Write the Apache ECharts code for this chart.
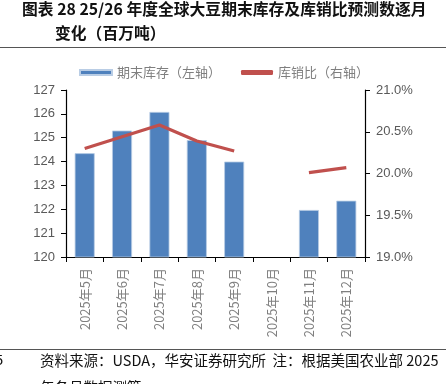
<!DOCTYPE html>
<html><head><meta charset="utf-8">
<script src="https://cdn.jsdelivr.net/npm/echarts@6/dist/echarts.min.js"></script>
<style>html,body{margin:0;padding:0;background:#fff}#c{width:446px;height:384px}</style>
</head><body><div id="c"></div>
<script>
const categories = ['2025年5月','2025年6月','2025年7月','2025年8月','2025年9月','2025年10月','2025年11月','2025年12月'];
const endingStocks = [124.35, 125.3, 126.08, 124.9, 124.0, null, 121.97, 122.36];
const stocksToUse = [20.30, 20.44, 20.58, 20.39, 20.27, null, 20.01, 20.07];
const leftTicks = [120, 127, 1];
const rightTicks = [19, 21, 0.5];

const chart = echarts.init(document.getElementById('c'));
const cjk = '"Noto Sans CJK SC", sans-serif';
chart.setOption({
  animation: false,
  textStyle: { fontFamily: cjk },
  graphic: [
    { type: 'text', left: 22, top: 1, style: { text: '图表 28 25/26 年度全球大豆期末库存及库销比预测数逐月', font: 'bold 15.8px ' + cjk, fill: '#111' } },
    { type: 'text', left: 55, top: 25, style: { text: '变化（百万吨）', font: 'bold 15.8px ' + cjk, fill: '#111' } },
    { type: 'rect', shape: { x: 0, y: 47, width: 446, height: 1 }, style: { fill: '#555' } },
    { type: 'rect', shape: { x: 0, y: 349, width: 446, height: 1 }, style: { fill: '#555' } },
    { type: 'text', left: -5, top: 353, style: { text: '5', font: '14.5px "Liberation Sans", sans-serif', fill: '#111' } },
    { type: 'text', left: 40, top: 353, style: { text: '资料来源：USDA，华安证券研究所  注：根据美国农业部 2025', font: '14.5px ' + cjk, fill: '#111' } },
    { type: 'text', left: 40, top: 380, style: { text: '年各月数据测算', font: '14.5px ' + cjk, fill: '#111' } }
  ],
  legend: {
    top: 61, left: 74,
    itemGap: 20,
    textStyle: { color: '#7f7f7f', fontSize: 13, fontFamily: cjk },
    data: [
      { name: '期末库存（左轴）', icon: 'rect', itemStyle: { color: '#4F81BD' } },
      { name: '库销比（右轴）', icon: 'roundRect' }
    ],
    itemWidth: 32, itemHeight: 5
  },
  grid: { left: 66, right: 81, top: 90, bottom: 127 },
  xAxis: {
    type: 'category', data: categories,
    boundaryGap: true,
    axisLine: { lineStyle: { color: '#000', width: 1.2 } },
    axisTick: { show: true, length: 5, inside: false, lineStyle: { color: '#000' } },
    axisLabel: { rotate: 90, color: '#7f7f7f', fontSize: 13, margin: 11, interval: 0, fontFamily: cjk }
  },
  yAxis: [
    {
      type: 'value', min: leftTicks[0], max: leftTicks[1], interval: leftTicks[2],
      splitLine: { show: false },
      axisLine: { show: true, lineStyle: { color: '#000', width: 1.2 } },
      axisTick: { show: true, length: 5, lineStyle: { color: '#000' } },
      axisLabel: { color: '#595959', fontSize: 13, margin: 11, fontFamily: '"Liberation Sans", sans-serif' }
    },
    {
      type: 'value', min: rightTicks[0], max: rightTicks[1], interval: rightTicks[2],
      position: 'right',
      splitLine: { show: false },
      axisLine: { show: true, lineStyle: { color: '#000', width: 1.2 } },
      axisTick: { show: true, length: 5, lineStyle: { color: '#000' } },
      axisLabel: { color: '#595959', fontSize: 13, margin: 11, fontFamily: '"Liberation Sans", sans-serif',
        formatter: v => v.toFixed(1) + '%' }
    }
  ],
  series: [
    {
      name: '期末库存（左轴）', type: 'bar', yAxisIndex: 0, data: endingStocks,
      barWidth: 20,
      itemStyle: { color: '#4F81BD', borderColor: '#B9CDE5', borderWidth: 0.8 }
    },
    {
      name: '库销比（右轴）', type: 'line', yAxisIndex: 1, data: stocksToUse,
      connectNulls: false, showSymbol: false, symbol: 'none',
      lineStyle: { color: '#C0504D', width: 3.2 },
      itemStyle: { color: '#C0504D' }
    }
  ]
});
</script></body></html>
